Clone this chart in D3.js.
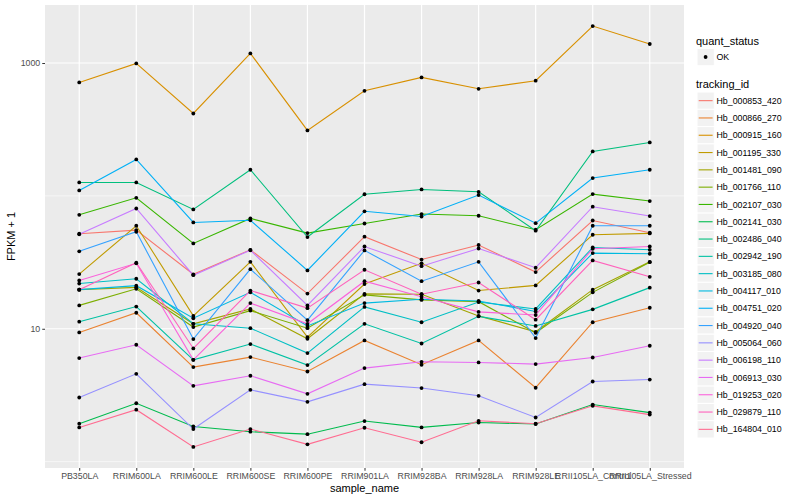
<!DOCTYPE html>
<html>
<head>
<meta charset="utf-8">
<script src="https://cdn.jsdelivr.net/npm/d3@7"></script>
<style>
body{margin:0;background:#fff;}
text{font-family:"Liberation Sans",Arial,Helvetica,sans-serif;}
</style>
</head>
<body>
<div id="chart"></div>
<script>
// x categories
var samples=["PB350LA","RRIM600LA","RRIM600LE","RRIM600SE","RRIM600PE","RRIM901LA","RRIM928BA","RRIM928LA","RRIM928LE","RRII105LA_Control","RRII105LA_Stressed"];

// FPKM + 1 per tracking id, in sample order
var hb_000853_420=[51.9,55.3,25.7,39.3,18.4,49.3,33.2,42.7,26.7,65.3,52.8];
var hb_000866_270=[9.38,13.2,5.15,6.12,4.77,8.17,5.36,8.17,3.60,11.2,14.4];
var hb_000915_160=[714,993,417,1181,311,618,779,640,736,1898,1390];
var hb_001195_330=[25.8,59.6,12.5,31.9,8.66,21.7,31.1,19.4,21.2,51.0,52.2];
var hb_001481_090=[19.7,20.5,10.9,14.1,8.41,18.3,18.2,12.5,9.49,19.7,31.9];
var hb_001766_110=[15.0,20.0,10.3,13.7,10.1,18.0,16.5,16.0,9.33,18.8,31.7];
var hb_002107_030=[72.1,96.8,43.9,67.7,52.5,62.0,73.0,70.9,55.6,103.2,91.5];
var hb_002141_030=[1.93,2.75,1.84,1.68,1.61,2.02,1.81,1.97,1.92,2.69,2.34];
var hb_002486_040=[126.3,126.3,79.1,157.3,49.0,102.9,111.8,107.4,54.7,216,252.5];
var hb_002942_190=[11.3,14.7,5.84,7.67,5.33,10.9,7.75,12.4,10.5,14.0,20.4];
var hb_003185_080=[21.9,23.8,10.9,10.1,6.56,14.6,11.2,15.9,14.1,40.9,39.3];
var hb_004117_010=[19.7,21.1,12.0,18.8,10.5,15.6,16.7,16.2,13.5,37.1,36.7];
var hb_004751_020=[109.9,188.1,63.1,65.6,27.5,76.6,69.9,101.6,62.3,136.2,157.3];
var hb_004920_040=[38.3,53.7,8.36,28.1,11.6,38.9,22.8,31.9,8.51,59.6,59.6];
var hb_005064_060=[3.04,4.58,1.76,3.47,2.82,3.83,3.58,3.13,2.15,4.01,4.15];
var hb_006198_110=[51.4,80.4,25.3,39.0,15.0,41.6,29.6,40.2,28.8,82.9,70.5];
var hb_006913_030=[6.02,7.58,3.72,4.43,3.24,5.06,5.64,5.58,5.42,6.08,7.45];
var hb_019253_020=[23.1,31.1,5.84,15.6,10.9,22.8,17.4,13.4,12.7,40.0,41.6];
var hb_029879_110=[19.7,31.4,7.11,19.4,14.3,27.8,18.2,22.3,11.7,32.7,24.6];
var hb_164804_010=[1.81,2.46,1.29,1.76,1.35,1.80,1.40,2.03,1.93,2.63,2.26];

var trackingIds=["Hb_000853_420","Hb_000866_270","Hb_000915_160","Hb_001195_330","Hb_001481_090","Hb_001766_110","Hb_002107_030","Hb_002141_030","Hb_002486_040","Hb_002942_190","Hb_003185_080","Hb_004117_010","Hb_004751_020","Hb_004920_040","Hb_005064_060","Hb_006198_110","Hb_006913_030","Hb_019253_020","Hb_029879_110","Hb_164804_010"];
var seriesValues=[hb_000853_420,hb_000866_270,hb_000915_160,hb_001195_330,hb_001481_090,hb_001766_110,hb_002107_030,hb_002141_030,hb_002486_040,hb_002942_190,hb_003185_080,hb_004117_010,hb_004751_020,hb_004920_040,hb_005064_060,hb_006198_110,hb_006913_030,hb_019253_020,hb_029879_110,hb_164804_010];
var colors=["#F8766D","#EA8331","#D89000","#C09B00","#A3A500","#7CAE00","#39B600","#00BB4E","#00BF7D","#00C1A3","#00BFC4","#00BAE0","#00B0F6","#35A2FF","#9590FF","#C77CFF","#E76BF3","#FA62DB","#FF62BC","#FF6C91"];

var majorTicks=[10,1000];
var minorTicks=[1,100];

var W=800,H=500;
var margin={top:5,right:116,bottom:32,left:45};
var pw=W-margin.left-margin.right, ph=H-margin.top-margin.bottom;

var svg=d3.select('#chart').append('svg')
	.attr('width',W).attr('height',H);

var g=svg.append('g').attr('transform','translate('+margin.left+','+margin.top+')');

/***** scales ************************/
var x=d3.scalePoint().domain(samples).range([0,pw]).padding(0.6);

var all=[].concat.apply([],seriesValues);
var lo=Math.log10(d3.min(all)), hi=Math.log10(d3.max(all));
var ex=(hi-lo)*0.05;
var y=d3.scaleLog().domain([Math.pow(10,lo-ex),Math.pow(10,hi+ex)]).range([ph,0]);

// panel
g.append('rect').attr('width',pw).attr('height',ph).attr('fill','#EBEBEB');

g.selectAll('.minor').data(minorTicks).enter().append('line')
	.attr('x1',0).attr('x2',pw)
	.attr('y1',function(d){return y(d)}).attr('y2',function(d){return y(d)})
	.attr('stroke','#fff').attr('stroke-width',0.6);
g.selectAll('.major').data(majorTicks).enter().append('line')
	.attr('x1',0).attr('x2',pw)
	.attr('y1',function(d){return y(d)}).attr('y2',function(d){return y(d)})
	.attr('stroke','#fff').attr('stroke-width',1.2);
g.selectAll('.vgrid').data(samples).enter().append('line')
	.attr('x1',function(d){return x(d)}).attr('x2',function(d){return x(d)})
	.attr('y1',0).attr('y2',ph)
	.attr('stroke','#fff').attr('stroke-width',1.2);

// lines
var line=d3.line()
	.x(function(d,i){return x(samples[i])})
	.y(function(d){return y(d)});

g.selectAll('.trk').data(seriesValues).enter().append('path')
	.attr('d',line)
	.attr('fill','none')
	.attr('stroke',function(d,i){return colors[i]})
	.attr('stroke-width',1.1);

// points
seriesValues.forEach(function(vals){
	g.selectAll(null).data(vals).enter().append('circle')
		.attr('cx',function(d,i){return x(samples[i])})
		.attr('cy',function(d){return y(d)})
		.attr('r',1.9)
		.attr('fill','#000');
});

/***** axes ************************/
var xAxis=d3.axisBottom(x).tickSize(2.75).tickPadding(2);
var yAxis=d3.axisLeft(y).tickValues(majorTicks).tickFormat(d3.format('d')).tickSize(2.75).tickPadding(2);

var xa=g.append('g').attr('transform','translate(0,'+ph+')').call(xAxis);
var ya=g.append('g').call(yAxis);
[xa,ya].forEach(function(a){
	a.select('.domain').remove();
	a.selectAll('.tick line').attr('stroke','#333333');
	a.selectAll('.tick text').attr('fill','#4D4D4D').style('font-size','8.8px')
		.style('font-family','"Liberation Sans",Arial,sans-serif');
});

svg.append('text').attr('x',margin.left+pw/2).attr('y',492)
	.attr('text-anchor','middle').style('font-size','11px').text('sample_name');
svg.append('text').attr('transform','translate(15,'+(margin.top+ph/2)+') rotate(-90)')
	.attr('text-anchor','middle').style('font-size','11px').text('FPKM + 1');

/***** legend ************************/
var lx=696;
var leg=svg.append('g');
leg.append('text').attr('x',lx).attr('y',44.5).style('font-size','11px').text('quant_status');
leg.append('rect').attr('x',lx+1).attr('y',48.4).attr('width',17.3).attr('height',17.3)
	.attr('fill','#F2F2F2').attr('stroke','#fff');
leg.append('circle').attr('cx',lx+9.6).attr('cy',57).attr('r',1.9).attr('fill','#000');
leg.append('text').attr('x',lx+20.5).attr('y',60.1).style('font-size','8.8px').text('OK');

leg.append('text').attr('x',lx).attr('y',88).style('font-size','11px').text('tracking_id');
var key=leg.selectAll('.key').data(trackingIds).enter().append('g')
	.attr('transform',function(d,i){return 'translate('+(lx+1)+','+(92+i*17.3)+')'});
key.append('rect').attr('width',17.3).attr('height',17.3).attr('fill','#F2F2F2').attr('stroke','#fff');
key.append('line').attr('x1',1.7).attr('x2',15.6).attr('y1',8.65).attr('y2',8.65)
	.attr('stroke',function(d,i){return colors[i]}).attr('stroke-width',1.1);
key.append('text').attr('x',19.5).attr('y',11.8).style('font-size','8.8px').text(function(d){return d});
</script>
</body>
</html>
